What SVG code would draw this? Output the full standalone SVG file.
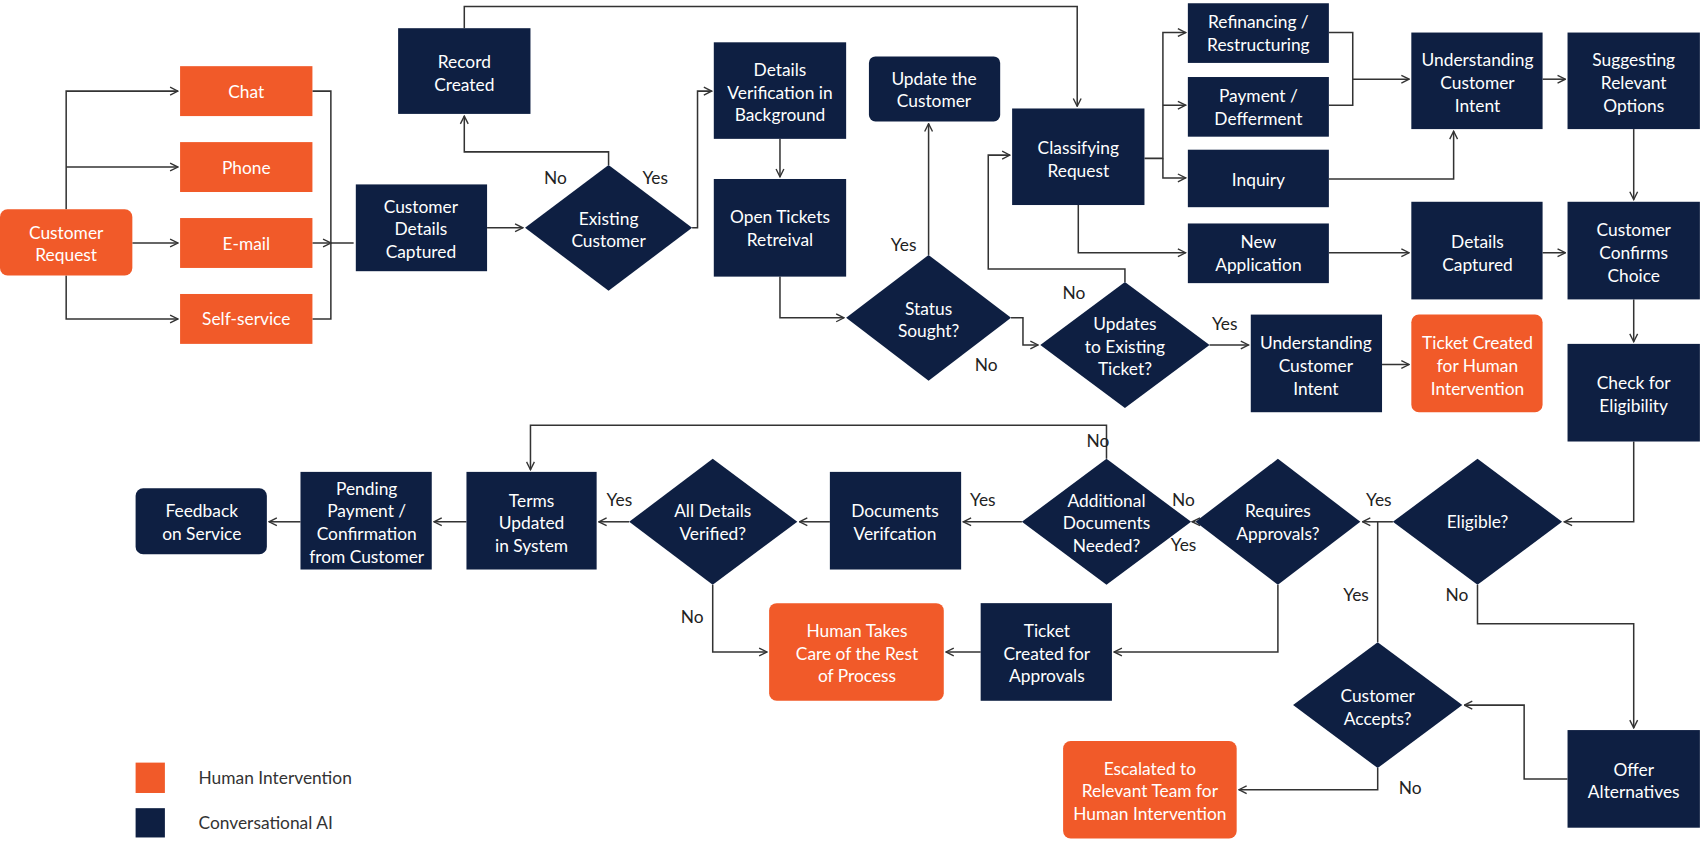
<svg xmlns="http://www.w3.org/2000/svg" width="1701" height="843" viewBox="0 0 1701 843">
<defs>
<marker id="ar" viewBox="0 0 10 10" refX="9" refY="5" markerWidth="9" markerHeight="9" orient="auto" markerUnits="userSpaceOnUse"><path d="M1 1 L9 5 L1 9" fill="none" stroke="#333" stroke-width="1.4"/></marker>
<style>
.o{fill:#F15A29}.n{fill:#0E1F42}
.t{font-family:Lato,"Liberation Sans",sans-serif;font-size:16px;fill:#fff;text-anchor:middle}
.l{font-family:Lato,"Liberation Sans",sans-serif;font-size:16px;fill:#222;text-anchor:middle}
.lg{font-family:Lato,"Liberation Sans",sans-serif;font-size:16px;fill:#333}
.c path{fill:none;stroke:#333;stroke-width:1.4}
.c path.a{marker-end:url(#ar)}
</style>
</defs>
<rect width="1701" height="843" fill="#fff"/>
<g transform="scale(1.0848)">
<g class="c">
<path d="M61 193V84H164" class="a"/><path d="M61 154H164" class="a"/><path d="M122 224H164" class="a"/><path d="M61 254V294H164" class="a"/>
<path d="M288 84H305V294H288M305 224H326M288 224H305" class="a"/>
<path d="M449 210H482" class="a"/>
<path d="M561 152V140H428V107" class="a"/>
<path d="M638 210H643V84H656" class="a"/>
<path d="M428 26V6H993V98" class="a"/>
<path d="M719 128V163" class="a"/>
<path d="M719 255V293H778" class="a"/>
<path d="M856 235V114" class="a"/>
<path d="M932 293H943V318H957" class="a"/>
<path d="M1037 260V248H911V143H931" class="a"/>
<path d="M1115 318H1151" class="a"/>
<path d="M1274 336H1299" class="a"/>
<path d="M1055 146H1072V30H1093" class="a"/><path d="M1072 97H1093" class="a"/><path d="M1072 146V164H1093" class="a"/>
<path d="M994 189V233H1093" class="a"/>
<path d="M1225 30H1247V97H1225M1247 73H1299" class="a"/>
<path d="M1225 165H1340V121" class="a"/>
<path d="M1422 73H1443" class="a"/>
<path d="M1506 119V184" class="a"/>
<path d="M1225 233H1299" class="a"/>
<path d="M1422 233H1443" class="a"/>
<path d="M1506 276V315" class="a"/>
<path d="M1506 407V481H1442" class="a"/>
<path d="M1284 481H1256" class="a"/>
<path d="M1270 481V592"/>
<path d="M1362 539V575H1506V671" class="a"/>
<path d="M1445 718H1405V650H1350" class="a"/>
<path d="M1270 708V728H1142" class="a"/>
<path d="M1102 481H1099" class="a"/>
<path d="M1178 539V601H1027" class="a"/>
<path d="M904 601H872" class="a"/>
<path d="M1020 423V392H489V433" class="a"/>
<path d="M942 481H888" class="a"/>
<path d="M765 481H737" class="a"/>
<path d="M580 481H552" class="a"/>
<path d="M657 539V601H707" class="a"/>
<path d="M430 481H400" class="a"/>
<path d="M277 481H248" class="a"/>
</g>
<g id="customer-request"><rect class="o" x="0" y="193" width="122" height="61" rx="7"/><text class="t" x="61" y="220">Customer</text><text class="t" x="61" y="241">Request</text></g>
<g id="chat"><rect class="o" x="166" y="61" width="122" height="46"/><text class="t" x="227" y="90">Chat</text></g>
<g id="phone"><rect class="o" x="166" y="131" width="122" height="46"/><text class="t" x="227" y="160">Phone</text></g>
<g id="email"><rect class="o" x="166" y="201" width="122" height="46"/><text class="t" x="227" y="230">E-mail</text></g>
<g id="self-service"><rect class="o" x="166" y="271" width="122" height="46"/><text class="t" x="227" y="300">Self-service</text></g>
<g id="details-captured-1"><rect class="n" x="328" y="170" width="121" height="80"/><text class="t" x="388" y="196">Customer</text><text class="t" x="388" y="217">Details</text><text class="t" x="388" y="238">Captured</text></g>
<g id="record-created"><rect class="n" x="367" y="26" width="122" height="79"/><text class="t" x="428" y="63">Record</text><text class="t" x="428" y="84">Created</text></g>
<g id="existing-customer"><path class="n" d="M561 152L638 210L561 268L484 210Z"/><text class="t" x="561" y="207">Existing</text><text class="t" x="561" y="228">Customer</text></g>
<g id="details-verification"><rect class="n" x="658" y="39" width="122" height="89"/><text class="t" x="719" y="70">Details</text><text class="t" x="719" y="91">Verification in</text><text class="t" x="719" y="112">Background</text></g>
<g id="open-tickets"><rect class="n" x="658" y="165" width="122" height="90"/><text class="t" x="719" y="206">Open Tickets</text><text class="t" x="719" y="227">Retreival</text></g>
<g id="update-customer"><rect class="n" x="801" y="52" width="121" height="60" rx="6"/><text class="t" x="861" y="78">Update the</text><text class="t" x="861" y="99">Customer</text></g>
<g id="status-sought"><path class="n" d="M856 235L932 293L856 351L780 293Z"/><text class="t" x="856" y="290">Status</text><text class="t" x="856" y="311">Sought?</text></g>
<g id="updates-existing"><path class="n" d="M1037 260L1115 318L1037 376L959 318Z"/><text class="t" x="1037" y="304">Updates</text><text class="t" x="1037" y="325">to Existing</text><text class="t" x="1037" y="346">Ticket?</text></g>
<g id="classifying"><rect class="n" x="933" y="100" width="122" height="89"/><text class="t" x="994" y="142">Classifying</text><text class="t" x="994" y="163">Request</text></g>
<g id="refinancing"><rect class="n" x="1095" y="3" width="130" height="55"/><text class="t" x="1160" y="26">Refinancing /</text><text class="t" x="1160" y="47">Restructuring</text></g>
<g id="payment"><rect class="n" x="1095" y="71" width="130" height="55"/><text class="t" x="1160" y="94">Payment /</text><text class="t" x="1160" y="115">Defferment</text></g>
<g id="inquiry"><rect class="n" x="1095" y="138" width="130" height="53"/><text class="t" x="1160" y="171">Inquiry</text></g>
<g id="new-application"><rect class="n" x="1095" y="206" width="130" height="55"/><text class="t" x="1160" y="229">New</text><text class="t" x="1160" y="250">Application</text></g>
<g id="understanding-1"><rect class="n" x="1301" y="30" width="121" height="89"/><text class="t" x="1362" y="61">Understanding</text><text class="t" x="1362" y="82">Customer</text><text class="t" x="1362" y="103">Intent</text></g>
<g id="suggesting"><rect class="n" x="1445" y="30" width="122" height="89"/><text class="t" x="1506" y="61">Suggesting</text><text class="t" x="1506" y="82">Relevant</text><text class="t" x="1506" y="103">Options</text></g>
<g id="details-captured-2"><rect class="n" x="1301" y="186" width="121" height="90"/><text class="t" x="1362" y="229">Details</text><text class="t" x="1362" y="250">Captured</text></g>
<g id="confirms-choice"><rect class="n" x="1445" y="186" width="122" height="90"/><text class="t" x="1506" y="218">Customer</text><text class="t" x="1506" y="239">Confirms</text><text class="t" x="1506" y="260">Choice</text></g>
<g id="understanding-2"><rect class="n" x="1153" y="290" width="121" height="90"/><text class="t" x="1213" y="322">Understanding</text><text class="t" x="1213" y="343">Customer</text><text class="t" x="1213" y="364">Intent</text></g>
<g id="ticket-human"><rect class="o" x="1301" y="290" width="121" height="90" rx="7"/><text class="t" x="1362" y="322">Ticket Created</text><text class="t" x="1362" y="343">for Human</text><text class="t" x="1362" y="364">Intervention</text></g>
<g id="check-eligibility"><rect class="n" x="1445" y="317" width="122" height="90"/><text class="t" x="1506" y="359">Check for</text><text class="t" x="1506" y="380">Eligibility</text></g>
<g id="eligible"><path class="n" d="M1362 423L1440 481L1362 539L1284 481Z"/><text class="t" x="1362" y="487">Eligible?</text></g>
<g id="requires-approvals"><path class="n" d="M1178 423L1254 481L1178 539L1102 481Z"/><text class="t" x="1178" y="477">Requires</text><text class="t" x="1178" y="498">Approvals?</text></g>
<g id="additional-docs"><path class="n" d="M1020 423L1098 481L1020 539L942 481Z"/><text class="t" x="1020" y="467">Additional</text><text class="t" x="1020" y="488">Documents</text><text class="t" x="1020" y="509">Needed?</text></g>
<g id="documents-verification"><rect class="n" x="765" y="435" width="121" height="90"/><text class="t" x="825" y="477">Documents</text><text class="t" x="825" y="498">Verifcation</text></g>
<g id="all-details"><path class="n" d="M657 423L735 481L657 539L580 481Z"/><text class="t" x="657" y="477">All Details</text><text class="t" x="657" y="498">Verified?</text></g>
<g id="terms-updated"><rect class="n" x="430" y="435" width="120" height="90"/><text class="t" x="490" y="467">Terms</text><text class="t" x="490" y="488">Updated</text><text class="t" x="490" y="509">in System</text></g>
<g id="pending-payment"><rect class="n" x="277" y="435" width="121" height="90"/><text class="t" x="338" y="456">Pending</text><text class="t" x="338" y="477">Payment /</text><text class="t" x="338" y="498">Confirmation</text><text class="t" x="338" y="519">from Customer</text></g>
<g id="feedback"><rect class="n" x="125" y="450" width="121" height="61" rx="7"/><text class="t" x="186" y="477">Feedback</text><text class="t" x="186" y="498">on Service</text></g>
<g id="human-takes"><rect class="o" x="709" y="556" width="161" height="90" rx="7"/><text class="t" x="790" y="587">Human Takes</text><text class="t" x="790" y="608">Care of the Rest</text><text class="t" x="790" y="629">of Process</text></g>
<g id="ticket-approvals"><rect class="n" x="904" y="556" width="121" height="90"/><text class="t" x="965" y="587">Ticket</text><text class="t" x="965" y="608">Created for</text><text class="t" x="965" y="629">Approvals</text></g>
<g id="customer-accepts"><path class="n" d="M1270 592L1348 650L1270 708L1192 650Z"/><text class="t" x="1270" y="647">Customer</text><text class="t" x="1270" y="668">Accepts?</text></g>
<g id="offer-alternatives"><rect class="n" x="1445" y="673" width="122" height="90"/><text class="t" x="1506" y="715">Offer</text><text class="t" x="1506" y="736">Alternatives</text></g>
<g id="escalated"><rect class="o" x="980" y="683" width="160" height="90" rx="7"/><text class="t" x="1060" y="714">Escalated to</text><text class="t" x="1060" y="735">Relevant Team for</text><text class="t" x="1060" y="756">Human Intervention</text></g>
<g id="labels">
<text class="l" x="512" y="170">No</text><text class="l" x="604" y="170">Yes</text>
<text class="l" x="833" y="231">Yes</text><text class="l" x="909" y="342">No</text>
<text class="l" x="990" y="276">No</text><text class="l" x="1129" y="304">Yes</text>
<text class="l" x="1271" y="466">Yes</text><text class="l" x="1250" y="554">Yes</text><text class="l" x="1343" y="554">No</text>
<text class="l" x="1091" y="466">No</text><text class="l" x="1091" y="508">Yes</text>
<text class="l" x="1012" y="412">No</text><text class="l" x="906" y="466">Yes</text>
<text class="l" x="571" y="466">Yes</text><text class="l" x="638" y="574">No</text>
<text class="l" x="1300" y="732">No</text>
</g>
<g id="legend">
<rect class="o" x="125" y="703" width="27" height="28"/><text class="lg" x="183" y="723">Human Intervention</text>
<rect class="n" x="125" y="745" width="27" height="27"/><text class="lg" x="183" y="764">Conversational AI</text>
</g>
</g>
</svg>
